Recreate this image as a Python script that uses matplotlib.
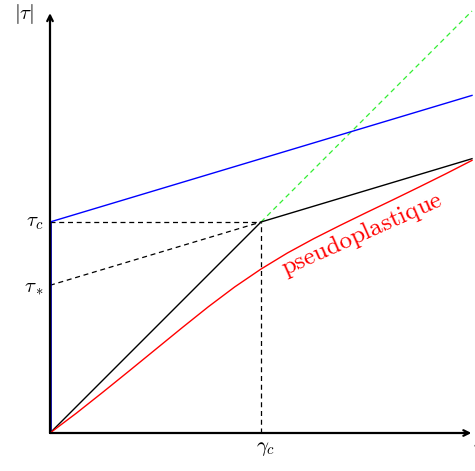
import matplotlib.pyplot as plt
import numpy as np

plt.rcParams['mathtext.fontset'] = 'cm'

# values (units: gamma_c = 1, tau_c = 1)
gamma_c = 1.0
tau_c = 1.0
tau_star = 0.7

bingham_x = [0.0, 2.0]
bingham_y = [1.0, 1.6]

black_x = [0.0, 1.0, 2.0]
black_y = [0.0, 1.0, 1.3]

green_x = [1.0, 2.0]
green_y = [1.0, 2.0]

red_x = [0.0, 0.125, 0.25, 0.375, 0.5, 0.625, 0.75, 0.875, 1.0,
         1.125, 1.25, 1.375, 1.5, 1.625, 1.75, 1.875, 2.0]
red_y = [0.0, 0.094, 0.193, 0.294, 0.396, 0.498, 0.598, 0.692, 0.777,
         0.853, 0.921, 0.984, 1.045, 1.105, 1.166, 1.228, 1.292]

fig = plt.figure(figsize=(4.75, 4.71), dpi=100)
ax = fig.add_axes([0, 0, 1, 1])
ax.set_xlim(-50 / 211, 425 / 211)
ax.set_ylim(-38 / 211, 433 / 211)
ax.axis("off")

# axes arrows
ax.annotate("", xy=(1.997, 0), xytext=(0, 0),
            arrowprops=dict(arrowstyle="->", lw=1.6, color="black", shrinkA=0, shrinkB=0))
ax.annotate("", xy=(0, 1.99), xytext=(0, 0),
            arrowprops=dict(arrowstyle="->", lw=1.6, color="black", shrinkA=0, shrinkB=0))

# dashed guides
ax.plot([0, gamma_c], [tau_c, tau_c], color="black", lw=0.9, ls=(0, (4, 3)))
ax.plot([gamma_c, gamma_c], [0, tau_c], color="black", lw=0.9, ls=(0, (4, 3)))
ax.plot([0, gamma_c], [tau_star, tau_c], color="black", lw=0.9, ls=(0, (4, 3)))
ax.plot(green_x, green_y, color="#33ee33", lw=0.9, ls=(0, (4, 3)))

# curves
ax.plot(bingham_x, bingham_y, color="blue", lw=1.0)
ax.plot([0, 0], [0, tau_c], color="#0000b0", lw=2.0, solid_capstyle="butt")
ax.plot(black_x, black_y, color="black", lw=1.0)
ax.plot(red_x, red_y, color="red", lw=1.0)

# labels
ax.text(-0.123, 1.986, r"$|\tau|$", fontsize=15, ha="center", va="center")
ax.text(-0.03, tau_c, r"$\tau_c$", fontsize=15, ha="right", va="center")
ax.text(-0.03, tau_star - 0.01, r"$\tau_*$", fontsize=15, ha="right", va="center")
ax.text(gamma_c + 0.02, -0.025, r"$\gamma_c$", fontsize=15, ha="center", va="top")
ax.text(2.035, -0.025, r"$\gamma$", fontsize=15, ha="center", va="top", clip_on=False)
ax.text(1.493, 0.915, r"$\mathrm{pseudoplastique}$", fontsize=18, color="red",
        ha="center", va="baseline", rotation=24, rotation_mode="anchor")

fig.savefig("out.png", dpi=100)
